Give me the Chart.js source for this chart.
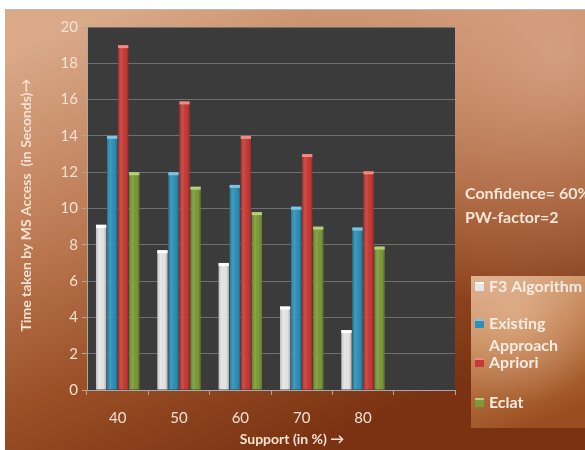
<!DOCTYPE html>
<html>
<head>
<meta charset="utf-8">
<script src="https://cdn.jsdelivr.net/npm/chart.js@4.4.0/dist/chart.umd.min.js"></script>
<style>
  html, body { margin: 0; padding: 0; background: #ffffff; }
  #wrap { width: 585px; height: 450px; position: relative; }
</style>
</head>
<body>
<div id="wrap"><canvas id="chart" width="585" height="450"></canvas></div>
<script>
// Support levels (the last slot is left empty)
const supportLevels = ['40', '50', '60', '70', '80', ''];

// Time taken by MS Access, in seconds
const f3Algorithm      = [9.1, 7.7, 7.0, 4.6, 3.3, null];
const existingApproach = [14.0, 12.0, 11.3, 10.1, 8.95, null];
const apriori          = [19.0, 15.9, 14.0, 13.0, 12.05, null];
const eclat            = [12.0, 11.2, 9.8, 9.0, 7.9, null];

const seriesNames  = ['F3 Algorithm', 'Existing Approach', 'Apriori', 'Eclat'];
const seriesColors = ['#e6e6e6', '#2e90b8', '#c73a35', '#7c9a38'];
const capColors    = ['#ffffff', '#7cc6e2', '#f08a84', '#b5cf7c'];

const yTickValues = [0, 2, 4, 6, 8, 10, 12, 14, 16, 18, 20];

const yTitle = 'Time taken by MS Access  (in Seconds)\u2192';
const xTitle = 'Support (in %) \u2192';
const notes = ['Confidence= 60%', 'PW-factor=2'];

const FONT = 'Lato, "Open Sans", "DejaVu Sans", sans-serif';
const LIGHT_TEXT = '#f6e2d2';

// Page backdrop, plot panel, bar shading, titles, legend and side notes
const decor = {
  id: 'decor',
  beforeDraw(chart) {
    const ctx = chart.ctx;
    const W = chart.width, H = chart.height;
    ctx.save();
    ctx.fillStyle = '#ffffff';
    ctx.fillRect(0, 0, W, H);
    ctx.fillStyle = '#b9b9bd';
    ctx.fillRect(5, 9, W - 5, 1);
    const g = ctx.createLinearGradient(120, 10, 300, H);
    g.addColorStop(0, '#d9a988');
    g.addColorStop(0.35, '#bf7e58');
    g.addColorStop(0.7, '#9a4f25');
    g.addColorStop(1, '#7a3212');
    ctx.fillStyle = g;
    ctx.fillRect(5, 10, W - 5, H - 10);
    // soft light wash near the upper right
    const r = ctx.createRadialGradient(560, 60, 10, 560, 60, 260);
    r.addColorStop(0, 'rgba(235,190,165,0.55)');
    r.addColorStop(1, 'rgba(235,190,165,0)');
    ctx.fillStyle = r;
    ctx.fillRect(5, 10, W - 5, H - 10);
    const a = chart.chartArea;
    ctx.fillStyle = '#3b3b3b';
    ctx.fillRect(a.left, a.top, a.right - a.left, a.bottom - a.top);
    ctx.restore();
  },
  afterDatasetsDraw(chart) {
    const ctx = chart.ctx;
    ctx.save();
    chart.data.datasets.forEach((ds, di) => {
      const meta = chart.getDatasetMeta(di);
      meta.data.forEach((bar, i) => {
        if (ds.data[i] == null) return;
        const w = bar.width, x0 = bar.x - w / 2, top = bar.y, bottom = bar.base;
        const sh = ctx.createLinearGradient(x0, 0, x0 + w, 0);
        sh.addColorStop(0, 'rgba(0,0,0,0.18)');
        sh.addColorStop(0.35, 'rgba(255,255,255,0.10)');
        sh.addColorStop(0.7, 'rgba(0,0,0,0)');
        sh.addColorStop(1, 'rgba(0,0,0,0.22)');
        ctx.fillStyle = sh;
        ctx.fillRect(x0, top, w, bottom - top);
        ctx.fillStyle = capColors[di];
        ctx.fillRect(x0, top, w, 3);
      });
    });
    ctx.restore();
  },
  afterDraw(chart) {
    const ctx = chart.ctx;
    ctx.save();
    ctx.fillStyle = LIGHT_TEXT;
    ctx.textAlign = 'center';
    ctx.textBaseline = 'middle';

    // y axis title
    ctx.save();
    ctx.translate(26, 205);
    ctx.rotate(-Math.PI / 2);
    ctx.font = 'bold 14px ' + FONT;
    ctx.fillText(yTitle, 0, 0);
    ctx.restore();

    // x axis title
    ctx.font = 'bold 14px ' + FONT;
    ctx.fillText(xTitle, 292, 439);

    // side notes
    ctx.textAlign = 'left';
    ctx.font = 'bold 16px ' + FONT;
    ctx.fillStyle = '#f7e6d8';
    ctx.fillText(notes[0], 465, 194);
    ctx.fillText(notes[1], 465, 218);

    // legend panel
    const lx = 471, ly = 276, lw = 120, lh = 152;
    const lg = ctx.createLinearGradient(lx, ly, lx + 60, ly + lh);
    lg.addColorStop(0, '#dcae8c');
    lg.addColorStop(0.45, '#c0804f');
    lg.addColorStop(1, '#9a4d1f');
    ctx.fillStyle = lg;
    ctx.fillRect(lx, ly, lw, lh);
    const glow = ctx.createRadialGradient(lx + 45, ly + 40, 5, lx + 45, ly + 40, 90);
    glow.addColorStop(0, 'rgba(240,200,170,0.45)');
    glow.addColorStop(1, 'rgba(240,200,170,0)');
    ctx.fillStyle = glow;
    ctx.fillRect(lx, ly, lw, lh);

    const rows = [
      { lines: ['F3 Algorithm'], y: 287 },
      { lines: ['Existing', 'Approach'], y: 324 },
      { lines: ['Apriori'], y: 363 },
      { lines: ['Eclat'], y: 403 }
    ];
    ctx.font = 'bold 16px ' + FONT;
    rows.forEach((row, i) => {
      ctx.fillStyle = seriesColors[i];
      ctx.fillRect(475, row.y - 5, 9, 9);
      ctx.fillStyle = capColors[i];
      ctx.fillRect(475, row.y - 5, 9, 2);
      ctx.fillStyle = '#f8ece2';
      row.lines.forEach((t, k) => ctx.fillText(t, 489, row.y + k * 22));
    });
    ctx.restore();
  }
};

const datasets = [f3Algorithm, existingApproach, apriori, eclat].map((vals, i) => ({
  label: seriesNames[i],
  data: vals,
  backgroundColor: seriesColors[i],
  borderWidth: 0,
  categoryPercentage: 0.72,
  barPercentage: 0.93
}));

new Chart(document.getElementById('chart'), {
  type: 'bar',
  data: { labels: supportLevels, datasets },
  plugins: [decor],
  options: {
    responsive: false,
    animation: false,
    devicePixelRatio: 1,
    layout: { padding: { left: 5, top: 27, right: 130, bottom: 5 } },
    plugins: {
      legend: { display: false },
      tooltip: { enabled: false }
    },
    scales: {
      x: {
        afterFit(scale) { scale.height = 55; },
        grid: {
          drawOnChartArea: false,
          offset: true,
          tickLength: 5,
          tickColor: '#b9a496'
        },
        border: { display: true, color: '#a9a9a9', width: 1 },
        ticks: {
          color: LIGHT_TEXT,
          font: { family: FONT, size: 15 },
          padding: 14
        }
      },
      y: {
        min: 0,
        max: 20,
        afterFit(scale) { scale.width = 82; },
        afterBuildTicks(scale) { scale.ticks = yTickValues.map(v => ({ value: v })); },
        grid: {
          color: '#707070',
          lineWidth: 1,
          tickLength: 5,
          tickColor: '#b9a496'
        },
        border: { display: true, color: '#a9a9a9', width: 1 },
        ticks: {
          color: LIGHT_TEXT,
          font: { family: FONT, size: 15 },
          padding: 4
        }
      }
    }
  }
});
</script>
</body>
</html>
